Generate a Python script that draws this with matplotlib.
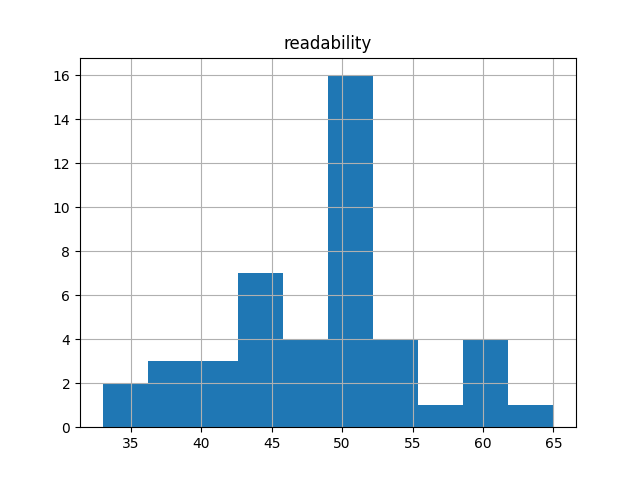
import matplotlib
matplotlib.use("Agg")
import matplotlib.pyplot as plt
import numpy as np

# readability histogram, 10 bins between min and max score
score_min = 33
score_max = 65
bin_counts = [2, 3, 3, 7, 4, 16, 4, 1, 4, 1]

edges = np.linspace(score_min, score_max, len(bin_counts) + 1)
centers = (edges[:-1] + edges[1:]) / 2

fig, ax = plt.subplots(figsize=(6.4, 4.8), dpi=100)
ax.hist(centers, bins=edges, weights=bin_counts)
ax.set_title("readability")
ax.grid(True)

fig.savefig("out.png")
